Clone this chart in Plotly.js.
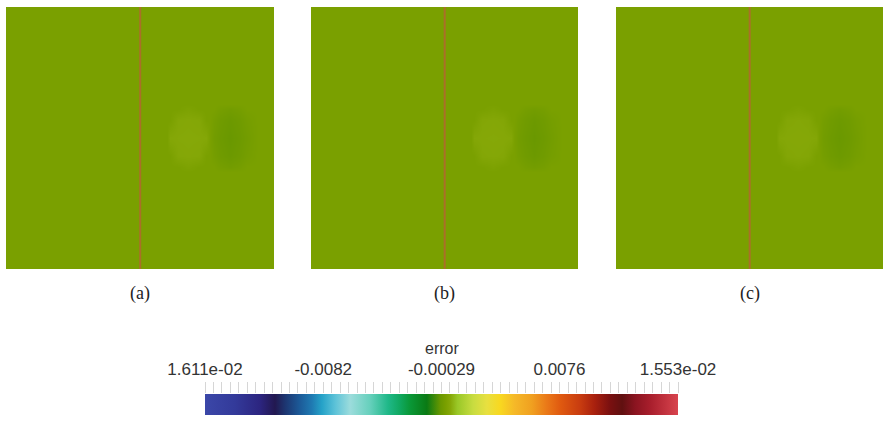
<!DOCTYPE html>
<html>
<head>
<meta charset="utf-8">
<script src="https://cdn.plot.ly/plotly-3.0.1.min.js"></script>
<style>html,body{margin:0;padding:0;background:#fff;}#plot{width:885px;height:421px;}</style>
</head>
<body>
<div id="plot"></div>
<script>
// ---- data ----
const panelLabels = ['(a)', '(b)', '(c)'];
const errMin = -0.01611;
const errMax = 0.01553;
const cbTickVals = [-0.01611, -0.0082, -0.00029, 0.0076, 0.01553];
const cbTickText = ['1.611e-02', '-0.0082', '-0.00029', '0.0076', '1.553e-02'];
const cbTitle = 'error';

// sample positions of the error field (normalised domain coordinates)
const gridX = [0, 0.6, 0.612, 0.64, 0.68, 0.72, 0.748, 0.76, 0.775, 0.8, 0.836, 0.872, 0.9, 0.94, 1];
const gridY = [0, 0.37, 0.39, 0.43, 0.5, 0.57, 0.61, 0.63, 1];

const errA = [
  [0, 0, 0, 0, 0, 0, 0, 0, 0, 0, 0, 0, 0, 0, 0],
  [0, 0, 0, 0, 0, 0, 0, 0, 0, 0, 0, 0, 0, 0, 0],
  [0, 0, 0, 0, 0.00009, 0, 0, 0, 0, -0.00009, -0.00016, -0.00009, 0, 0, 0],
  [0, 0, 0, 0.00024, 0.00027, 0.00024, 0, 0, -0.0001, -0.00021, -0.0003, -0.00021, -0.0001, 0, 0],
  [0, 0, 0.00026, 0.00029, 0.0003, 0.00029, 0.00026, 0, -0.00016, -0.00026, -0.00036, -0.00026, -0.00016, 0, 0],
  [0, 0, 0, 0.00024, 0.00027, 0.00024, 0, 0, -0.0001, -0.00021, -0.0003, -0.00021, -0.0001, 0, 0],
  [0, 0, 0, 0, 0.00009, 0, 0, 0, 0, -0.00009, -0.00016, -0.00009, 0, 0, 0],
  [0, 0, 0, 0, 0, 0, 0, 0, 0, 0, 0, 0, 0, 0, 0],
  [0, 0, 0, 0, 0, 0, 0, 0, 0, 0, 0, 0, 0, 0, 0]
];
const errB = [
  [0, 0, 0, 0, 0, 0, 0, 0, 0, 0, 0, 0, 0, 0, 0],
  [0, 0, 0, 0, 0, 0, 0, 0, 0, 0, 0, 0, 0, 0, 0],
  [0, 0, 0, 0, 0.00008, 0, 0, 0, 0, -0.00009, -0.00015, -0.00009, 0, 0, 0],
  [0, 0, 0, 0.00023, 0.00026, 0.00023, 0, 0, -0.0001, -0.0002, -0.00029, -0.0002, -0.0001, 0, 0],
  [0, 0, 0.00025, 0.00028, 0.00029, 0.00028, 0.00025, 0, -0.00015, -0.00025, -0.00035, -0.00025, -0.00015, 0, 0],
  [0, 0, 0, 0.00023, 0.00026, 0.00023, 0, 0, -0.0001, -0.0002, -0.00029, -0.0002, -0.0001, 0, 0],
  [0, 0, 0, 0, 0.00008, 0, 0, 0, 0, -0.00009, -0.00015, -0.00009, 0, 0, 0],
  [0, 0, 0, 0, 0, 0, 0, 0, 0, 0, 0, 0, 0, 0, 0],
  [0, 0, 0, 0, 0, 0, 0, 0, 0, 0, 0, 0, 0, 0, 0]
];
const errC = [
  [0, 0, 0, 0, 0, 0, 0, 0, 0, 0, 0, 0, 0, 0, 0],
  [0, 0, 0, 0, 0, 0, 0, 0, 0, 0, 0, 0, 0, 0, 0],
  [0, 0, 0, 0, 0.00008, 0, 0, 0, 0, -0.00008, -0.00015, -0.00008, 0, 0, 0],
  [0, 0, 0, 0.00022, 0.00025, 0.00022, 0, 0, -0.0001, -0.0002, -0.00028, -0.0002, -0.0001, 0, 0],
  [0, 0, 0.00024, 0.00027, 0.00028, 0.00027, 0.00024, 0, -0.00015, -0.00025, -0.00034, -0.00025, -0.00015, 0, 0],
  [0, 0, 0, 0.00022, 0.00025, 0.00022, 0, 0, -0.0001, -0.0002, -0.00028, -0.0002, -0.0001, 0, 0],
  [0, 0, 0, 0, 0.00008, 0, 0, 0, 0, -0.00008, -0.00015, -0.00008, 0, 0, 0],
  [0, 0, 0, 0, 0, 0, 0, 0, 0, 0, 0, 0, 0, 0, 0],
  [0, 0, 0, 0, 0, 0, 0, 0, 0, 0, 0, 0, 0, 0, 0]
];

// the interface line (cell edges of a thin column) and its error
const lineEdgesX = [0.497, 0.503];
const lineEdgesY = [0, 1];
const lineErr = [[0.0155]];

// ---- colour map ----
const colorScale = [
  [0, '#3b47a8'], [0.063, '#333a9a'], [0.116, '#2c2580'], [0.148, '#221850'],
  [0.169, '#1d3570'], [0.2, '#1c5a98'], [0.226, '#1f7ab2'], [0.247, '#25a2c8'],
  [0.275, '#5cc2d8'], [0.307, '#9cdcdc'], [0.349, '#66d0bc'], [0.387, '#1fb888'],
  [0.412, '#10a860'], [0.433, '#0a9838'], [0.469, '#0a7a14'], [0.4981, '#6a9800'],
  [0.5092, '#7aa000'], [0.5187, '#86a808'], [0.534, '#9ac828'], [0.567, '#c8dc40'],
  [0.596, '#e8e040'], [0.624, '#f8d820'], [0.655, '#f5b828'], [0.691, '#f0a020'],
  [0.723, '#ea7818'], [0.751, '#e05a10'], [0.793, '#c83c10'], [0.824, '#a8200e'],
  [0.856, '#7a1010'], [0.882, '#601010'], [0.909, '#8a1420'], [0.941, '#a81e2c'],
  [1, '#d8444e']
];

const W = 885, H = 421;
const fields = [errA, errB, errC];
const panelPx = [[6, 274], [311, 578], [616, 883]];
const panelTop = 7, panelBottom = 269;

const traces = [];
const layout = {
  width: W, height: H,
  margin: {l: 0, r: 0, t: 0, b: 0},
  paper_bgcolor: '#ffffff', plot_bgcolor: '#ffffff',
  showlegend: false,
  annotations: [],
  coloraxis: {
    cmin: errMin, cmax: errMax,
    colorscale: colorScale,
    colorbar: {
      orientation: 'h',
      thickness: 21, thicknessmode: 'pixels',
      len: 473 / W, lenmode: 'fraction',
      x: 441.5 / W, xanchor: 'center',
      y: (H - 415) / H, yanchor: 'bottom',
      xpad: 0, ypad: 0,
      outlinewidth: 0,
      showticklabels: false,
      ticks: ''
    }
  }
};

fields.forEach((z, i) => {
  const n = i + 1;
  const xa = 'x' + (n === 1 ? '' : n);
  const ya = 'y' + (n === 1 ? '' : n);
  traces.push({
    type: 'heatmap', x: gridX, y: gridY, z: z,
    coloraxis: 'coloraxis', zsmooth: 'best',
    xaxis: xa, yaxis: ya, hoverinfo: 'skip'
  });
  traces.push({
    type: 'heatmap', x: lineEdgesX, y: lineEdgesY, z: lineErr,
    coloraxis: 'coloraxis', zsmooth: false, opacity: 0.52,
    xaxis: xa, yaxis: ya, hoverinfo: 'skip'
  });
  const axx = 'xaxis' + (n === 1 ? '' : n);
  const axy = 'yaxis' + (n === 1 ? '' : n);
  layout[axx] = {
    domain: [panelPx[i][0] / W, panelPx[i][1] / W],
    range: [0, 1], anchor: ya, visible: false, fixedrange: true
  };
  layout[axy] = {
    domain: [(H - panelBottom) / H, (H - panelTop) / H],
    range: [0, 1], anchor: xa, visible: false, fixedrange: true
  };
  layout.annotations.push({
    text: panelLabels[i], showarrow: false,
    xref: xa + ' domain', yref: ya + ' domain',
    x: 0.5, y: -(293 - panelBottom) / (panelBottom - panelTop),
    xanchor: 'center', yanchor: 'middle',
    font: {family: 'Liberation Serif, serif', size: 18, color: '#222222'}
  });
});

// axis carrying the colour bar labels, above the bar
traces.push({type: 'scatter', x: [], y: [], xaxis: 'x4', yaxis: 'y4', hoverinfo: 'skip'});
layout.xaxis4 = {
  domain: [205 / W, 678 / W], anchor: 'y4', side: 'top',
  range: [errMin, errMax],
  tickmode: 'array', tickvals: cbTickVals, ticktext: cbTickText,
  ticks: 'outside', ticklen: 11, tickwidth: 1, tickcolor: '#d6d6d6',
  showgrid: false, zeroline: false, showline: false, fixedrange: true,
  tickfont: {family: 'Liberation Sans, Arial, sans-serif', size: 17, color: '#333333'},
  minor: {ticks: 'outside', ticklen: 11, tickwidth: 1, tickcolor: '#d6d6d6',
          tick0: errMin, dtick: 0.000565, showgrid: false}
};
layout.yaxis4 = {
  domain: [(H - 415) / H, (H - 394) / H], anchor: 'x4',
  range: [0, 1], visible: false, fixedrange: true
};
layout.annotations.push({
  text: cbTitle, showarrow: false,
  xref: 'x4 domain', yref: 'paper', x: 0.5, y: (H - 348) / H,
  xanchor: 'center', yanchor: 'middle',
  font: {family: 'Liberation Sans, Arial, sans-serif', size: 16, color: '#333333'}
});

Plotly.newPlot('plot', traces, layout, {staticPlot: true, displayModeBar: false});
</script>
</body>
</html>
